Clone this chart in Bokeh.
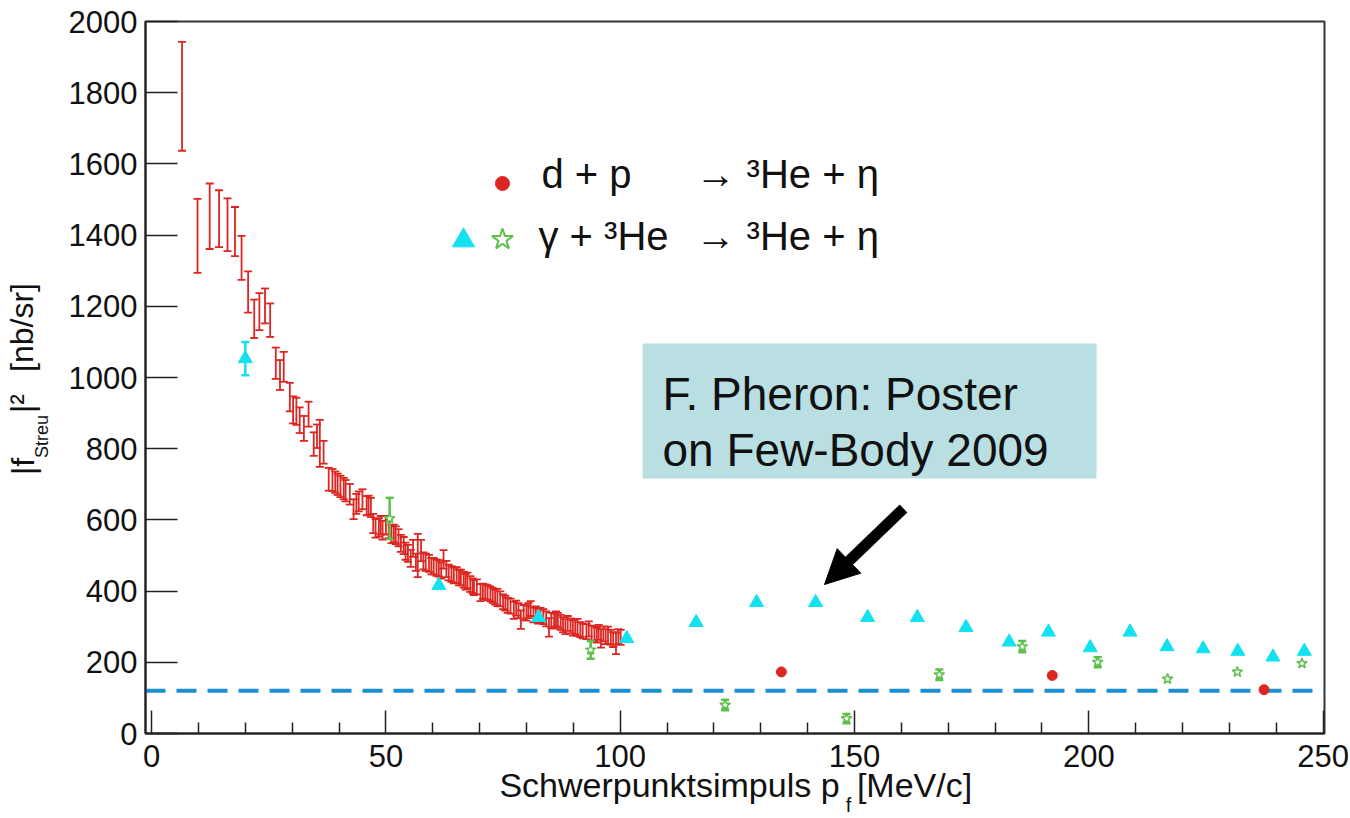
from bokeh.plotting import figure
from bokeh.models import (Whisker, TeeHead, ColumnDataSource, Span, BoxAnnotation,
                          Label, Arrow, NormalHead, Range1d, FixedTicker, LinearAxis)
from bokeh.embed import file_html
from bokeh.resources import INLINE

# ---------------- data ----------------
# d + p -> 3He + eta  (dense data with error bars)
dp_p = [6.5, 9.8, 12.4, 14.4, 16.2, 17.8, 19.2, 20.6, 21.9, 23.0, 24.2, 25.3, 26.5, 27.4,
        28.2, 29.5, 30.2, 30.9, 31.6, 32.5, 33.5, 34.6, 35.3, 35.9, 36.7, 37.8, 38.6, 39.2,
        39.7, 40.3, 41.0, 41.4, 42.3, 43.1, 43.7, 44.2, 45.0, 45.9, 46.3, 46.8, 47.3, 47.8,
        48.5, 48.9, 49.3, 50.0, 50.6, 51.2, 51.7, 52.1, 52.7, 53.2, 53.8, 54.2, 54.7, 55.3,
        55.8, 56.4, 56.8, 57.5, 58.0, 58.5, 59.2, 59.7, 60.2, 60.8, 61.3, 61.8, 62.3, 62.9,
        63.4, 64.0, 64.5, 65.1, 65.6, 66.0, 66.6, 67.0, 67.4, 68.0, 68.5, 68.8, 69.4, 70.2,
        70.7, 71.2, 71.7, 72.3, 72.8, 73.3, 73.8, 74.4, 75.0, 75.5, 76.0, 76.6, 77.3, 77.8,
        78.3, 78.8, 79.4, 80.0, 80.4, 80.9, 81.5, 82.0, 82.5, 83.0, 83.6, 84.2, 84.8, 85.3,
        85.9, 86.3, 86.7, 87.3, 87.8, 88.3, 88.8, 89.4, 89.9, 90.4, 90.9, 91.5, 92.0, 92.8,
        93.3, 93.9, 94.5, 95.0, 95.4, 95.9, 96.4, 96.9, 97.4, 98.0, 98.5, 99.1, 99.6, 100.1]
dp_val = [1790, 1398, 1453, 1446, 1429, 1410, 1336, 1240, 1165, 1185, 1201, 1161, 1040, 1007,
          1030, 945, 909, 905, 880, 857, 897, 813, 835, 815, 790, 714, 712, 706,
          700, 694, 688, 682, 672, 630, 645, 652, 658, 640, 641, 635, 590, 576,
          579, 585, 571, 585, 575, 560, 562, 557, 550, 534, 528, 512, 506, 492,
          520, 481, 500, 514, 485, 481, 478, 470, 470, 466, 464, 458, 489, 462,
          452, 448, 444, 445, 438, 438, 432, 426, 430, 420, 415, 410, 412, 396,
          400, 398, 396, 392, 388, 383, 382, 378, 370, 366, 360, 358, 346, 352,
          345, 320, 340, 338, 345, 351, 333, 336, 330, 332, 328, 322, 298, 318,
          316, 322, 318, 312, 306, 300, 309, 302, 296, 300, 298, 292, 288, 286,
          294, 282, 280, 276, 284, 267, 280, 272, 276, 270, 264, 253, 272, 270]
dp_err = [153, 104, 92, 80, 74, 69, 62, 58, 54, 52, 49, 47, 44, 42,
          42, 40, 38, 38, 36, 35, 35, 33, 33, 66, 32, 32, 31, 30,
          30, 30, 30, 30, 29, 28, 28, 28, 28, 27, 27, 27, 27, 26,
          26, 26, 26, 26, 26, 25, 25, 25, 24, 24, 24, 24, 24, 24,
          24, 24, 61, 30, 24, 24, 24, 23, 23, 23, 23, 23, 26, 23,
          22, 22, 22, 22, 22, 22, 22, 22, 22, 22, 21, 21, 21, 24,
          21, 21, 21, 21, 21, 21, 24, 21, 21, 21, 21, 21, 24, 21,
          21, 26, 21, 21, 21, 21, 21, 21, 21, 21, 21, 21, 26, 21,
          21, 21, 21, 21, 21, 21, 21, 21, 21, 21, 24, 21, 21, 21,
          21, 21, 21, 21, 21, 26, 21, 21, 24, 21, 21, 30, 21, 21]

# d + p -> 3He + eta  (single points at higher momentum)
dp_single_p = [134.4, 192.2, 237.4]
dp_single_val = [173, 163, 123]

# gamma + 3He -> 3He + eta  (triangles)
tri_p = [20.0, 61.3, 82.6, 101.4, 116.2, 129.1, 141.7, 152.8, 163.4, 173.8, 183.0,
         191.4, 200.3, 208.8, 216.7, 224.4, 231.8, 239.3, 246.0]
tri_val = [1053, 416, 326, 267, 312, 368, 368, 326, 326, 298, 257,
           285, 241, 285, 244, 238, 231, 215, 231]
tri_err = [47, 0, 0, 0, 0, 0, 0, 0, 0, 0, 0,
           0, 0, 0, 0, 0, 0, 0, 0]

# gamma + 3He -> 3He + eta  (stars)
star_p = [50.8, 93.7, 122.4, 148.3, 168.1, 185.8, 201.9, 216.8, 231.7, 245.5]
star_val = [604, 235, 80, 42, 165, 244, 200, 153, 173, 197]
star_err = [58, 25, 15, 13, 15, 16, 14, 0, 0, 0]

threshold = 120

x_ticks = [0, 50, 100, 150, 200, 250]
x_minor = [10, 20, 30, 40, 60, 70, 80, 90, 110, 120, 130, 140, 160, 170, 180, 190,
           210, 220, 230, 240]
y_ticks = [0, 200, 400, 600, 800, 1000, 1200, 1400, 1600, 1800, 2000]

# ---------------- layout ----------------
W, H = 1350, 818
FL, FR, FT, FB = 145, 1324, 21, 733
X0, X1 = -1.3, 250.3
Y0, Y1 = 0, 2000

RED = "#dc2622"
CYAN = "#12e2f0"
GREEN = "#5cc04a"
FONT = "Liberation Sans"
INK = "#111111"
BASE_SHIFT = 0.36   # em; Bokeh's alphabetic anchor sits this far below the glyph baseline


def dx(px):
    return round(X0 + (px - FL) * (X1 - X0) / (FR - FL), 3)


def dy(py):
    return round(Y1 - (py - FT) * (Y1 - Y0) / (FB - FT), 3)


p = figure(width=W, height=H, x_range=Range1d(X0, X1), y_range=Range1d(Y0, Y1),
           output_backend="svg", toolbar_location=None,
           min_border_left=FL, min_border_right=W - FR,
           min_border_top=FT, min_border_bottom=H - FB)

p.xgrid.visible = False
p.ygrid.visible = False
p.outline_line_color = "#333333"
p.outline_line_width = 2
p.background_fill_color = "white"
p.border_fill_color = "white"

p.xaxis.ticker = FixedTicker(ticks=x_ticks, minor_ticks=x_minor)
p.yaxis.ticker = FixedTicker(ticks=y_ticks, minor_ticks=[])
for ax in (p.xaxis[0], p.yaxis[0]):
    ax.axis_line_color = "#222222"
    ax.axis_line_width = 2
    ax.major_tick_line_color = "#222222"
    ax.major_tick_line_width = 1.5
    ax.major_tick_out = 0
    ax.minor_tick_out = 0
    ax.major_label_text_font = FONT
    ax.major_label_text_font_size = "31px"
    ax.major_label_text_color = INK
p.xaxis.major_tick_in = 23
p.xaxis.minor_tick_in = 11
p.xaxis.minor_tick_line_color = "#222222"
p.xaxis.minor_tick_line_width = 1.5
p.yaxis.major_tick_in = 32
p.yaxis.minor_tick_line_color = None
p.xaxis.major_label_standoff = 11
p.yaxis.major_label_standoff = 8


def title_axis(side, pieces, size, standoff, vertical=False):
    """An axis without line/ticks whose only texts are pieces of the axis title.
    pieces: list of (centre in picture pixels along the axis, text)."""
    if side == "below":
        locs = [dx(c) for c, _ in pieces]
    else:
        locs = [dy(c) for c, _ in pieces]
    ax = LinearAxis(ticker=FixedTicker(ticks=locs, minor_ticks=[]),
                    major_label_overrides={l: t for l, (_, t) in zip(locs, pieces)},
                    axis_line_color=None, major_tick_line_color=None,
                    minor_tick_line_color=None, major_tick_in=0, major_tick_out=0,
                    minor_tick_in=0, minor_tick_out=0,
                    major_label_standoff=standoff,
                    major_label_text_font=FONT, major_label_text_font_size=size,
                    major_label_text_color=INK)
    if vertical:
        ax.major_label_orientation = "vertical"
    p.add_layout(ax, side)


# x-axis title: "Schwerpunktsimpuls p_f[MeV/c]"
title_axis("below", [(669, "Schwerpunktsimpuls p"), (914, "[MeV/c]")], "34px", -4)
title_axis("below", [(848, "f")], "20px", -13)

# y-axis title: "|f_Streu|^2 [nb/sr]"
title_axis("left", [(436, "Streu")], "18px", 13, vertical=True)
title_axis("left", [(466, "|f"), (403, "|\u00b2"), (327, "[nb/sr]")], "32px", -11,
           vertical=True)

# threshold dashed line
p.add_layout(Span(location=threshold, dimension="width", line_color="#1d8fd0",
                  line_width=4, line_dash="20 11", level="underlay"))

# dense d+p data
dp_src = ColumnDataSource(dict(x=dp_p, y=dp_val,
                               lo=[v - e for v, e in zip(dp_val, dp_err)],
                               hi=[v + e for v, e in zip(dp_val, dp_err)]))
p.add_layout(Whisker(source=dp_src, base="x", lower="lo", upper="hi",
                     line_color=RED, line_width=1.8,
                     upper_head=TeeHead(size=8, line_color=RED, line_width=1.8),
                     lower_head=TeeHead(size=8, line_color=RED, line_width=1.8)))

# single d+p points
p.scatter(dp_single_p, dp_single_val, marker="circle", size=10, color=RED)

# triangles
tri_src = ColumnDataSource(dict(x=tri_p, y=tri_val))
p.scatter("x", "y", source=tri_src, marker="triangle", size=14, color=CYAN)
te = [(x, v, e) for x, v, e in zip(tri_p, tri_val, tri_err) if e > 0]
tri_e_src = ColumnDataSource(dict(x=[t[0] for t in te],
                                  lo=[t[1] - t[2] for t in te],
                                  hi=[t[1] + t[2] for t in te]))
p.add_layout(Whisker(source=tri_e_src, base="x", lower="lo", upper="hi",
                     line_color=CYAN, line_width=2.5,
                     upper_head=TeeHead(size=8, line_color=CYAN, line_width=2.5),
                     lower_head=TeeHead(size=8, line_color=CYAN, line_width=2.5)))

# stars
se = [(x, v, e) for x, v, e in zip(star_p, star_val, star_err) if e > 0]
star_e_src = ColumnDataSource(dict(x=[t[0] for t in se],
                                   lo=[t[1] - t[2] for t in se],
                                   hi=[t[1] + t[2] for t in se]))
p.add_layout(Whisker(source=star_e_src, base="x", lower="lo", upper="hi",
                     line_color=GREEN, line_width=2.5,
                     upper_head=TeeHead(size=8, line_color=GREEN, line_width=2.5),
                     lower_head=TeeHead(size=8, line_color=GREEN, line_width=2.5)))
p.scatter(star_p, star_val, marker="star", size=11, line_color=GREEN,
          fill_color="white", line_width=1.5)

# legend (hand-made, like the original)
p.scatter([dx(502)], [dy(183)], marker="circle", size=14, color=RED)
p.scatter([dx(463)], [dy(240)], marker="triangle", size=22, color=CYAN)
p.scatter([dx(502)], [dy(239)], marker="star", size=22, line_color=GREEN,
          fill_color="white", line_width=2)


def lab(px, py, text, size):
    """px, py: wanted glyph baseline start in picture pixels."""
    s = float(size.replace("px", ""))
    p.add_layout(Label(x=dx(px), y=dy(py - BASE_SHIFT * s), text=text, text_font=FONT,
                       text_font_size=size, text_color=INK,
                       text_align="left", text_baseline="alphabetic"))


lab(541, 188, "d + p", "40px")
lab(695, 188, "\u2192 \u00b3He + \u03b7", "40px")
lab(538, 250, "\u03b3 + \u00b3He", "40px")
lab(695, 250, "\u2192 \u00b3He + \u03b7", "40px")

# annotation box
p.add_layout(BoxAnnotation(left=dx(642), right=dx(1096), top=dy(343), bottom=dy(478),
                           fill_color="#b9dfe2", fill_alpha=1.0, line_color=None))
lab(662, 410, "F. Pheron: Poster", "46px")
lab(662, 466, "on Few-Body 2009", "46px")

p.add_layout(Arrow(x_start=dx(903), y_start=dy(508), x_end=dx(824), y_end=dy(584),
                   line_width=11, line_color="black",
                   end=NormalHead(size=34, fill_color="black", line_color="black",
                                  line_width=1)))

open("out.html", "w").write(file_html(p, INLINE))
